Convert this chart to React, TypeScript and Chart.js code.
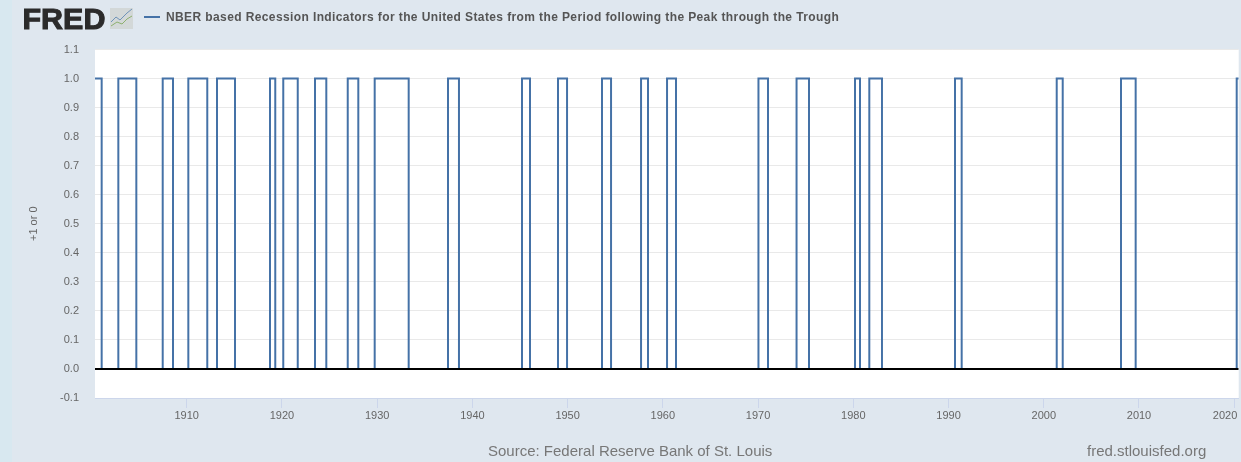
import React, { useEffect, useRef } from "react";
import { Chart, registerables } from "chart.js";

Chart.register(...registerables);

const seriesName = "NBER based Recession Indicators for the United States from the Period following the Peak through the Trough";
const yAxisTitle = "+1 or 0";
const sourceText = "Source: Federal Reserve Bank of St. Louis";
const siteText = "fred.stlouisfed.org";

const changeYears = [
  1900.37, 1901.07, 1902.82, 1904.71, 1907.48, 1908.56, 1910.17, 1912.16, 1913.18, 1915.07,
  1918.75, 1919.30, 1920.14, 1921.66, 1923.47, 1924.66, 1926.91, 1928.02, 1929.74, 1933.31,
  1937.44, 1938.59, 1945.21, 1946.05, 1948.99, 1949.94, 1953.61, 1954.56, 1957.71, 1958.44,
  1960.44, 1961.38, 1970.04, 1971.04, 1974.04, 1975.35, 1980.18, 1980.70, 1981.68, 1983.01,
  1990.68, 1991.38, 2001.36, 2001.99, 2008.11, 2009.65, 2020.26, 2020.47,
];
const changeValues = [
  1, 0, 1, 0, 1, 0, 1, 0, 1, 0,
  1, 0, 1, 0, 1, 0, 1, 0, 1, 0,
  1, 0, 1, 0, 1, 0, 1, 0, 1, 0,
  1, 0, 1, 0, 1, 0, 1, 0, 1, 0,
  1, 0, 1, 0, 1, 0, 1, 1,
];
const zeroLineYears = [1900.37, 2020.47];
const zeroLineValues = [0, 0];
const xTickYears = [1910, 1920, 1930, 1940, 1950, 1960, 1970, 1980, 1990, 2000, 2010, 2020];
const yTickValues = [-0.1, 0, 0.1, 0.2, 0.3, 0.4, 0.5, 0.6, 0.7, 0.8, 0.9, 1.0, 1.1];

const FONT = '"Liberation Sans", Arial, sans-serif';

const decorations = {
  id: "decorations",
  beforeDraw(chart: any) {
    const { ctx, chartArea: a, width, height } = chart;
    ctx.save();
    ctx.fillStyle = "#dfe7ef";
    ctx.fillRect(0, 0, width, height);
    ctx.fillStyle = "#d8e8f0";
    ctx.fillRect(0, 0, 12, height);
    ctx.fillStyle = "#ffffff";
    ctx.fillRect(a.left, a.top, a.right - a.left, a.bottom - a.top);
    ctx.restore();
  },
  afterDraw(chart: any) {
    const { ctx } = chart;
    ctx.save();
    ctx.textBaseline = "alphabetic";
    ctx.textAlign = "left";
    // logo
    ctx.fillStyle = "#2b2b2b";
    ctx.strokeStyle = "#2b2b2b";
    ctx.lineWidth = 1;
    ctx.font = `bold 29px ${FONT}`;
    ctx.save();
    ctx.translate(22.5, 28.5);
    ctx.scale(1.05, 1);
    ctx.fillText("FRED", 0, 0);
    ctx.strokeText("FRED", 0, 0);
    ctx.restore();
    ctx.fillStyle = "#d3d8d8";
    ctx.fillRect(110, 8, 23, 21);
    ctx.lineWidth = 1;
    ctx.strokeStyle = "#6f93b8";
    ctx.beginPath();
    ctx.moveTo(111, 22); ctx.lineTo(116, 17); ctx.lineTo(120, 20); ctx.lineTo(127, 13); ctx.lineTo(132, 9);
    ctx.stroke();
    ctx.strokeStyle = "#8db06f";
    ctx.beginPath();
    ctx.moveTo(111, 26); ctx.lineTo(117, 22); ctx.lineTo(122, 24); ctx.lineTo(127, 19); ctx.lineTo(132, 16);
    ctx.stroke();
    // legend
    ctx.textBaseline = "middle";
    ctx.strokeStyle = "#4572a7";
    ctx.lineWidth = 2;
    ctx.beginPath();
    ctx.moveTo(144, 17);
    ctx.lineTo(160, 17);
    ctx.stroke();
    ctx.fillStyle = "#555555";
    ctx.font = `bold 12px ${FONT}`;
    (ctx as any).letterSpacing = "0.39px";
    ctx.fillText(seriesName, 166, 18);
    (ctx as any).letterSpacing = "0px";
    // footer
    ctx.fillStyle = "#777777";
    ctx.font = `15px ${FONT}`;
    ctx.fillText(sourceText, 488, 452);
    ctx.fillText(siteText, 1087, 452);
    ctx.restore();
  },
};

export default function App() {
  const ref = useRef<HTMLCanvasElement | null>(null);
  useEffect(() => {
    document.body.style.margin = "0";
    const chart = new Chart(ref.current as HTMLCanvasElement, {
      type: "line",
      data: {
        datasets: [
          {
            label: "Zero",
            data: zeroLineYears.map((x, i) => ({ x, y: zeroLineValues[i] })),
            borderColor: "#000000",
            borderWidth: 2,
            pointRadius: 0,
            order: 0,
          },
          {
            label: seriesName,
            data: changeYears.map((x, i) => ({ x, y: changeValues[i] })),
            borderColor: "#4572a7",
            borderWidth: 2,
            pointRadius: 0,
            stepped: "before",
            order: 1,
          },
        ],
      },
      options: {
        animation: false,
        responsive: false,
        layout: { padding: { left: 27, right: 2.3, top: 49.5, bottom: 0 } },
        plugins: { legend: { display: false }, title: { display: false }, tooltip: { enabled: false } },
        scales: {
          x: {
            type: "linear",
            min: zeroLineYears[0],
            max: zeroLineYears[1],
            afterBuildTicks: (s: any) => { s.ticks = xTickYears.map((value) => ({ value })); },
            afterFit: (s: any) => { s.height = 64; s.paddingLeft = 0; s.paddingRight = 0; },
            border: { color: "#ccd6eb", width: 1 },
            grid: { drawOnChartArea: false, drawTicks: true, tickLength: 10, color: "#ccd6eb" },
            ticks: {
              color: "#666666",
              font: { family: FONT, size: 11 },
              maxRotation: 0,
              autoSkip: false,
              padding: 1,
              callback: (v: any) => (v === 2020 ? "2020" + "\u00A0".repeat(6) : String(v)),
            },
          },
          y: {
            type: "linear",
            min: -0.1,
            max: 1.1,
            afterBuildTicks: (s: any) => { s.ticks = yTickValues.map((value) => ({ value })); },
            afterFit: (s: any) => { s.width = 68; s.paddingTop = 0; s.paddingBottom = 0; },
            border: { display: false },
            grid: { color: "#e9e9e9", lineWidth: 1, drawTicks: false },
            title: { display: true, text: yAxisTitle, color: "#666666", font: { family: FONT, size: 11 }, padding: 0 },
            ticks: {
              color: "#666666",
              font: { family: FONT, size: 11 },
              padding: 16,
              autoSkip: false,
              callback: (v: any) => Number(v).toFixed(1),
            },
          },
        },
      },
      plugins: [decorations],
    } as any);
    return () => chart.destroy();
  }, []);
  return <canvas ref={ref} width={1241} height={462} style={{ display: "block" }} />;
}
